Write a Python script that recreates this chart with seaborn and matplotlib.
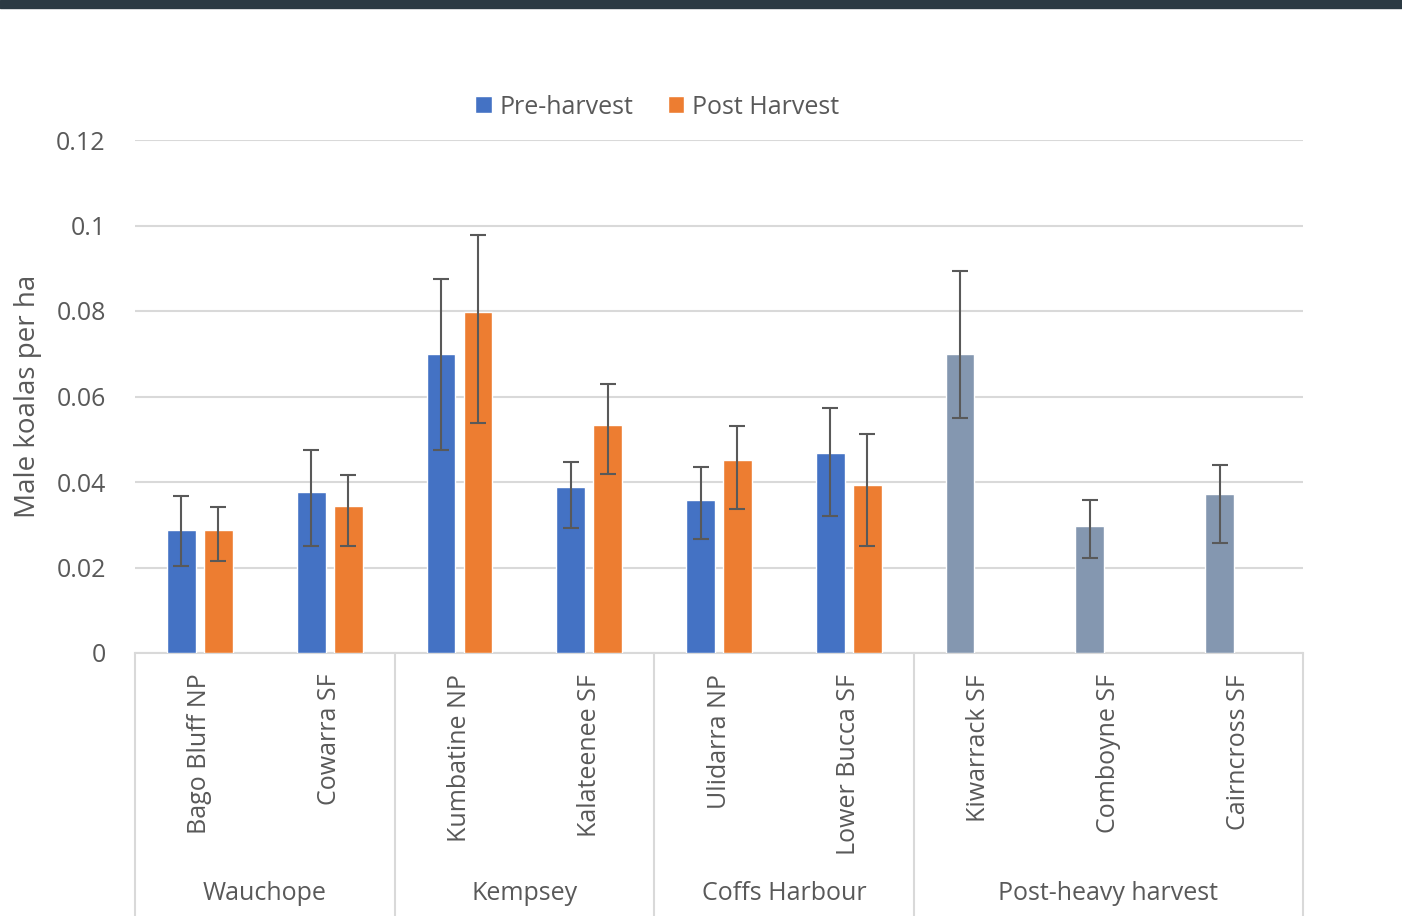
import matplotlib
matplotlib.use("Agg")
import matplotlib.pyplot as plt
import numpy as np
import pandas as pd
import seaborn as sns
from matplotlib.patches import Rectangle

SITES = [
    "Bago Bluff NP", "Cowarra SF", "Kumbatine NP", "Kalateenee SF", "Ulidarra NP",
    "Lower Bucca SF", "Kiwarrack SF", "Comboyne SF", "Cairncross SF",
]
REGIONS = ["Wauchope", "Kempsey", "Coffs Harbour", "Post-heavy harvest"]
REGION_SIZES = [2, 2, 2, 3]

# pre-harvest surveys (the last three sites only have one survey, after heavy harvest)
PRE = [0.0288, 0.0377, 0.0699, 0.0388, 0.0358, 0.0469, 0.0699, 0.0298, 0.0371]
PRE_LO = [0.0203, 0.0250, 0.0475, 0.0292, 0.0266, 0.0321, 0.0550, 0.0223, 0.0257]
PRE_HI = [0.0367, 0.0475, 0.0874, 0.0447, 0.0434, 0.0572, 0.0893, 0.0358, 0.0440]

POST_SITES = SITES[:6]
POST = [0.0288, 0.0345, 0.0797, 0.0533, 0.0451, 0.0392]
POST_LO = [0.0216, 0.0250, 0.0539, 0.0419, 0.0338, 0.0250]
POST_HI = [0.0341, 0.0416, 0.0978, 0.0629, 0.0532, 0.0512]

HEAVY_SITES = SITES[6:]

PERIODS = ["Pre-harvest", "Post Harvest"]
YTICKS = [0, 0.02, 0.04, 0.06, 0.08, 0.1, 0.12]
YTICK_LABELS = ["0", "0.02", "0.04", "0.06", "0.08", "0.1", "0.12"]

BLUE = "#4472C4"
ORANGE = "#ED7D31"
SLATE = "#8497B0"
TEXT = "#595959"
GRID = "#D9D9D9"
ERR = "#595959"

sns.set_style("white")
plt.rcParams["font.family"] = ["Open Sans", "DejaVu Sans"]

df = pd.DataFrame({
    "site": SITES + POST_SITES,
    "period": [PERIODS[0]] * len(SITES) + [PERIODS[1]] * len(POST_SITES),
    "value": PRE + POST,
})

err_lookup = {}
for s, lo, hi in zip(SITES, PRE_LO, PRE_HI):
    err_lookup[(s, PERIODS[0])] = (lo, hi)
for s, lo, hi in zip(POST_SITES, POST_LO, POST_HI):
    err_lookup[(s, PERIODS[1])] = (lo, hi)

fig = plt.figure(figsize=(14.02, 9.16), dpi=100)
ax = fig.add_axes([135 / 1402, 1 - 653 / 916, (1303 - 135) / 1402, (653 - 140) / 916])

sns.barplot(
    data=df, x="site", y="value", hue="period", order=SITES, hue_order=PERIODS,
    palette=[BLUE, ORANGE], width=0.57, gap=0.22, saturation=1, errorbar=None,
    ax=ax, zorder=3,
)

# error bars on the bar centres seaborn produced; recolour the post-heavy sites
for container, key in zip(ax.containers, PERIODS):
    xs, ys, lows, highs = [], [], [], []
    for bar in container:
        cx = bar.get_x() + bar.get_width() / 2
        site = SITES[int(round(cx))]
        if site in HEAVY_SITES:
            bar.set_facecolor(SLATE)
        lo, hi = err_lookup[(site, key)]
        v = bar.get_height()
        xs.append(cx)
        ys.append(v)
        lows.append(v - lo)
        highs.append(hi - v)
    ax.errorbar(xs, ys, yerr=[lows, highs], fmt="none", ecolor=ERR,
                elinewidth=1.5, capsize=5.5, capthick=1.5, zorder=4)

ax.set_ylim(0, 0.12)
ax.set_xlim(-0.5, len(SITES) - 0.5)
ax.set_yticks(YTICKS)
ax.set_yticklabels(YTICK_LABELS)
ax.yaxis.grid(True, color=GRID, linewidth=1.5, zorder=0)
ax.set_axisbelow(True)
for side in ["top", "right", "left"]:
    ax.spines[side].set_visible(False)
ax.spines["bottom"].set_color(GRID)
ax.spines["bottom"].set_linewidth(1.5)
ax.tick_params(axis="y", length=0, pad=21, labelsize=18, labelcolor=TEXT)
ax.tick_params(axis="x", length=0, pad=15, labelsize=18, labelcolor=TEXT)
for lab in ax.get_xticklabels():
    lab.set_rotation(90)
ax.set_xlabel("")
ax.set_ylabel("Male koalas per ha", fontsize=20, color=TEXT, labelpad=10)

# region grouping below the site labels
trans = ax.get_xaxis_transform()
bottom = -(916 - 653) / 513
edges = np.concatenate([[0], np.cumsum(REGION_SIZES)]) - 0.5
for e in edges:
    ax.plot([e, e], [0, bottom], transform=trans, color=GRID, linewidth=1.5, clip_on=False)
for name, a, b in zip(REGIONS, edges[:-1], edges[1:]):
    ax.text((a + b) / 2, -(893 - 653) / 513, name, transform=trans, ha="center",
            va="center", fontsize=18, color=TEXT)

handles, labels = ax.get_legend_handles_labels()
ax.legend(handles[:2], labels[:2], loc="center", ncol=2, frameon=False,
          bbox_to_anchor=(657 / 1402, 1 - 107 / 916), bbox_transform=fig.transFigure,
          fontsize=18, labelcolor=TEXT, handlelength=0.65, handleheight=0.65,
          handletextpad=0.3, columnspacing=1.4)

fig.patches.append(Rectangle((0, 1 - 8 / 916), 1, 8 / 916, transform=fig.transFigure,
                             color="#2B3A43", zorder=10))

fig.savefig("out.png", dpi=100)
